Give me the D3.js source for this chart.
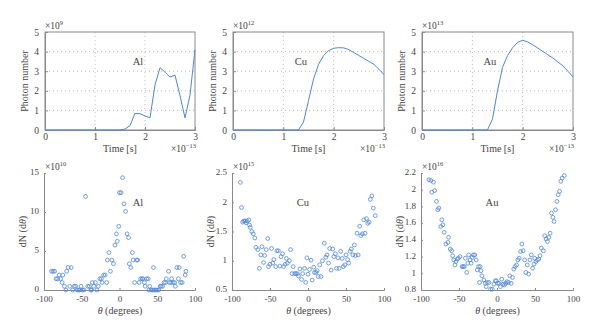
<!DOCTYPE html>
<html>
<head>
<meta charset="utf-8">
<script src="https://cdn.jsdelivr.net/npm/d3@7"></script>
<style>
  body { margin: 0; background: #fff; }
  text { font-family: "Liberation Serif", "Times New Roman", Times, serif; fill: #444; }
</style>
</head>
<body>
<div id="chart"></div>
<script>
// time axis (units of 1e-13 s)
var times = [0, 0.1, 0.2, 0.3, 0.4, 0.5, 0.6, 0.7, 0.8, 0.9, 1.0, 1.1, 1.2, 1.3, 1.4, 1.5,
             1.6, 1.7, 1.8, 1.9, 2.0, 2.1, 2.2, 2.3, 2.4, 2.5, 2.6, 2.7, 2.8, 2.9, 3.0];

// photon number vs time
var alPhotons = [0, 0, 0, 0, 0, 0, 0, 0, 0, 0, 0, 0, 0, 0, 0, 0,
                 0.05, 0.22, 0.85, 0.83, 0.72, 0.62, 2.3, 3.18, 2.95, 2.7, 2.8, 1.75, 0.62, 1.78, 4.1];
var cuPhotons = [0, 0, 0, 0, 0, 0, 0, 0, 0, 0, 0, 0, 0, 0,
                 0.4, 1.5, 2.6, 3.35, 3.8, 4.05, 4.17, 4.2, 4.19, 4.1, 3.95, 3.8, 3.65, 3.5, 3.35, 3.1, 2.82];
var auPhotons = [0, 0, 0, 0, 0, 0, 0, 0, 0, 0, 0, 0, 0, 0,
                 0.55, 2.0, 3.2, 3.8, 4.2, 4.47, 4.58, 4.49, 4.35, 4.18, 4.01, 3.84, 3.67, 3.47, 3.27, 3.0, 2.7];

// angular distribution [theta, dN]
var alAngular = [[-90,2.4],[-88,2.4],[-86,2.4],[-84,1.44],[-82,1.44],[-80,1.92],[-78,1.44],[-76,0.96],
  [-75,1.92],[-73,0.48],[-71,0],[-70,2.4],[-68,2.88],[-66,0.48],[-64,2.88],[-62,0],[-60,0.48],[-58,0.48],
  [-56,0],[-54,0],[-53,0],[-51,0.48],[-49,0],[-47,0],[-45,12.0],[-42,0.48],[-40,0.48],[-38,0],[-37,0],
  [-36,0.96],[-34,0.48],[-32,0.96],[-30,0],[-28,0.48],[-26,1.44],[-24,1.44],[-23,0.96],[-21,1.92],
  [-19,1.92],[-17,0.96],[-16,3.84],[-14,4.8],[-12,2.4],[-10,3.84],[-8,3.36],[-6,5.76],[-4,7.2],[-3,6.24],
  [-1,8.16],[0,12.48],[2,12.48],[4,14.4],[6,11.04],[8,10.08],[10,7.2],[12,6.72],[13,3.36],[15,2.88],
  [17,4.8],[18,3.84],[20,0.96],[23,3.84],[24,3.84],[26,0.96],[28,1.44],[30,1.44],[31,1.44],[33,0.96],
  [34,0.48],[36,1.44],[38,1.44],[39,0],[40,0.48],[42,0],[44,0],[45,2.88],[46,0],[48,0],[50,0],[52,0],
  [54,0.48],[55,0.48],[57,0.48],[59,0.96],[61,0.96],[62,1.44],[65,2.4],[66,0.96],[68,0.96],[69,1.44],
  [71,0.96],[73,0.96],[74,0.48],[76,2.88],[78,1.44],[79,2.88],[81,0.96],[83,0.96],[85,4.32],[87,1.92],[88,2.4]];

var cuAngular = [[-89,2.34],[-87.5,1.91],[-86,1.66],[-84.5,1.68],[-83,1.68],[-81.5,1.65],[-80,1.68],
  [-78,1.70],[-77,1.61],[-76,1.57],[-74,1.50],[-72,1.46],[-70,1.39],[-68.5,1.23],[-66,1.19],[-64,0.87],
  [-62,1.10],[-60.5,1.24],[-58.5,0.97],[-57,1.09],[-55,1.19],[-53,1.38],[-52,0.90],[-50,0.94],[-48,1.21],
  [-46.5,0.96],[-45,1.02],[-42.5,0.90],[-41,1.17],[-39,1.17],[-37,0.91],[-35.5,1.07],[-33.5,1.12],
  [-32,0.90],[-30,0.94],[-28.5,1.04],[-27,0.96],[-24.5,1.00],[-23,1.19],[-21,0.78],[-19.5,0.90],
  [-17.5,0.78],[-16,0.78],[-14,0.78],[-12.5,0.74],[-10.5,0.86],[-8.5,0.68],[-7,0.78],[-4.5,0.87],
  [-3,0.63],[-1.5,1.05],[0,0.77],[2,0.85],[4,1.01],[5.5,0.67],[7.5,0.89],[8.5,0.80],[10.5,0.80],
  [12,0.83],[13.5,0.73],[15.5,0.93],[17,0.73],[19,1.00],[21.5,1.30],[23.5,1.06],[25,1.10],[27,0.96],
  [28.5,1.21],[30.5,0.84],[32.5,1.20],[34,1.07],[36,1.12],[37.5,0.87],[39.5,1.05],[41,0.87],[43,1.16],
  [45,1.04],[46.5,0.90],[48.5,0.93],[50,1.10],[52,1.02],[53.5,0.96],[55.5,1.16],[57,1.20],[59,1.10],
  [61,1.27],[62.5,1.09],[64.5,1.47],[66,1.10],[68,1.59],[69.5,1.43],[71.5,1.46],[73.5,1.70],[75,1.47],
  [77,1.72],[78.5,1.64],[80.5,1.66],[82,2.05],[84,2.11],[86,1.90],[88.5,1.77]];

var auAngular = [[-89.5,2.12],[-87,2.11],[-85.8,1.97],[-83.6,2.09],[-82,1.99],[-79.6,1.86],[-78,1.76],
  [-76.5,1.78],[-74,1.56],[-72.6,1.64],[-71.2,1.58],[-69.5,1.49],[-67.3,1.35],[-64.6,1.37],[-63.7,1.43],
  [-61.5,1.29],[-59.7,1.27],[-58.4,1.21],[-57,1.16],[-55.3,1.10],[-54,1.14],[-52.2,1.17],[-50.9,1.18],
  [-48.7,1.20],[-46,1.08],[-44.5,1.08],[-43,1.08],[-41.6,1.18],[-39.8,1.01],[-38.5,1.12],[-37.2,1.22],
  [-35.4,1.16],[-34,1.12],[-32.7,1.19],[-31,1.22],[-29.2,1.22],[-27.4,1.16],[-26,1.04],[-24.3,1.08],
  [-23,0.89],[-22.1,1.08],[-21.2,1.03],[-19.9,0.97],[-17.3,0.92],[-15.5,0.88],[-14.2,0.84],[-12.8,0.89],
  [-10.6,0.89],[-8.4,0.81],[-6.2,0.81],[-4,0.87],[-2.2,0.91],[-0.9,0.91],[0.9,0.88],[2.7,0.88],
  [4.4,0.84],[6.2,0.93],[8,0.87],[9.7,0.86],[11.5,0.88],[13.3,0.90],[15,0.89],[16.8,0.97],[18.6,0.88],
  [20.4,0.95],[22.1,1.05],[23.9,1.08],[25.7,1.10],[27.4,1.16],[29.2,1.18],[31,1.26],[32.7,1.35],
  [34.5,1.27],[36.3,1.16],[38,1.01],[39.8,1.10],[41.6,0.99],[43.4,1.16],[45.1,1.22],[46.9,1.06],
  [48.7,1.11],[49.6,1.18],[51.3,1.14],[53.1,1.16],[54.9,1.17],[56.6,1.21],[58.4,1.30],[61,1.27],
  [62.8,1.45],[64.6,1.41],[66.4,1.38],[68.1,1.43],[69.9,1.48],[71.7,1.72],[73.5,1.67],[75.2,1.62],
  [77,1.76],[78.8,1.86],[80.5,1.94],[82.3,1.98],[84,2.1],[85.8,2.14],[88.5,2.17]];

var timeTicks = [0, 1, 2, 3];
var photonTicks = [0, 1, 2, 3, 4, 5];
var thetaTicks = [-100, -50, 0, 50, 100];
var alDNTicks = [0, 5, 10, 15];
var cuDNTicks = [0.5, 1, 1.5, 2, 2.5];
var auDNTicks = [0.8, 1, 1.2, 1.4, 1.6, 1.8, 2, 2.2];

var materials = ["Al", "Cu", "Au"];
var photonSeries = [alPhotons, cuPhotons, auPhotons];
var photonExp = ["9", "12", "13"];
var angularSeries = [alAngular, cuAngular, auAngular];
var angularTicks = [alDNTicks, cuDNTicks, auDNTicks];
var angularExp = ["10", "15", "16"];

var width = 600, height = 335;
var cols = [[45, 195], [233, 384], [422, 573]];
var topRow = [32, 130];
var botRow = [173, 290];
var lineColor = "#4f86d9";
var axisColor = "#8a8a8a";

var svg = d3.select("#chart").append("svg")
    .attr("width", width)
    .attr("height", height);

function expLabel(g, x, y, exp, anchor) {
    var t = g.append("text")
        .attr("x", x)
        .attr("y", y)
        .attr("text-anchor", anchor)
        .style("font-size", "9.5px");
    t.append("tspan").text("\u00d710");
    t.append("tspan").attr("dy", -4).style("font-size", "6.5px").text(exp);
}

function styleAxis(g, size) {
    g.select(".domain").attr("stroke", axisColor);
    g.selectAll(".tick line").attr("stroke", axisColor);
    g.selectAll(".tick text").style("font-size", size || "9.5px").attr("fill", "#444");
}

// top row: photon number vs time
cols.forEach(function(c, i) {
    var x = d3.scaleLinear().domain([0, 3]).range(c);
    var y = d3.scaleLinear().domain([0, 5]).range([topRow[1], topRow[0]]);
    var g = svg.append("g");

    // dotted grid
    g.selectAll(".gx").data([1, 2]).enter().append("line")
        .attr("x1", function(d) { return x(d); })
        .attr("x2", function(d) { return x(d); })
        .attr("y1", topRow[0]).attr("y2", topRow[1])
        .attr("stroke", "#aaa").attr("stroke-width", 0.8).attr("stroke-dasharray", "1,3");
    g.selectAll(".gy").data([1, 2, 3, 4]).enter().append("line")
        .attr("y1", function(d) { return y(d); })
        .attr("y2", function(d) { return y(d); })
        .attr("x1", c[0]).attr("x2", c[1])
        .attr("stroke", "#aaa").attr("stroke-width", 0.8).attr("stroke-dasharray", "1,3");

    g.append("rect")
        .attr("x", c[0]).attr("y", topRow[0])
        .attr("width", c[1] - c[0]).attr("height", topRow[1] - topRow[0])
        .attr("fill", "none").attr("stroke", axisColor).attr("stroke-width", 1);

    var xa = g.append("g").attr("transform", "translate(0," + topRow[1] + ")")
        .call(d3.axisBottom(x).tickValues(timeTicks).tickSize(-3).tickPadding(3).tickFormat(d3.format("d")));
    styleAxis(xa);
    var ya = g.append("g").attr("transform", "translate(" + c[0] + ",0)")
        .call(d3.axisLeft(y).tickValues(photonTicks).tickSize(-3).tickPadding(6).tickFormat(d3.format("d")));
    styleAxis(ya);

    var line = d3.line()
        .x(function(d, j) { return x(times[j]); })
        .y(function(d) { return y(d); });
    g.append("path")
        .datum(photonSeries[i])
        .attr("d", line)
        .attr("fill", "none")
        .attr("stroke", lineColor)
        .attr("stroke-width", 1);

    g.append("text")
        .attr("x", x(i == 0 ? 1.86 : 1.35))
        .attr("y", topRow[0] + 33)
        .attr("text-anchor", "middle")
        .style("font-size", "10.5px")
        .text(materials[i]);

    g.append("text")
        .attr("transform", "translate(" + (c[0] - 17) + "," + ((topRow[0] + topRow[1]) / 2) + ") rotate(-90)")
        .attr("text-anchor", "middle")
        .style("font-size", "10px")
        .text("Photon number");
    g.append("text")
        .attr("x", (c[0] + c[1]) / 2)
        .attr("y", topRow[1] + 22)
        .attr("text-anchor", "middle")
        .style("font-size", "10px")
        .text("Time [s]");

    expLabel(g, c[0], topRow[0] - 3, photonExp[i], "start");
    expLabel(g, c[1] + 1, topRow[1] + 22, "\u221213", "end");
});

// bottom row: angular distribution
cols.forEach(function(c, i) {
    var ticks = angularTicks[i];
    var x = d3.scaleLinear().domain([-100, 100]).range([c[0] - 1, c[1]]);
    var y = d3.scaleLinear().domain([ticks[0], ticks[ticks.length - 1]]).range([botRow[1], botRow[0]]);
    var g = svg.append("g");

    var xa = g.append("g").attr("transform", "translate(0," + botRow[1] + ")")
        .call(d3.axisBottom(x).tickValues(thetaTicks).tickSize(-2).tickPadding(6)
            .tickFormat(function(d) { return String(d); }));
    styleAxis(xa, "9px");
    var ya = g.append("g").attr("transform", "translate(" + (c[0] - 1) + ",0)")
        .call(d3.axisLeft(y).tickValues(ticks).tickSize(-2).tickPadding(5).tickFormat(function(d) { return String(d); }));
    styleAxis(ya, "9px");
    ya.selectAll(".tick text").attr("dy", "0.2em");

    g.selectAll("circle").data(angularSeries[i]).enter().append("circle")
        .attr("cx", function(d) { return x(d[0]); })
        .attr("cy", function(d) { return y(d[1]); })
        .attr("r", 1.9)
        .attr("fill", "none")
        .attr("stroke", lineColor)
        .attr("stroke-width", 0.8);

    g.append("text")
        .attr("x", c[0] + (i == 0 ? 93 : 70))
        .attr("y", botRow[0] + 33)
        .attr("text-anchor", "middle")
        .style("font-size", "10.5px")
        .text(materials[i]);

    var yl = g.append("text")
        .attr("transform", "translate(" + (c[0] - 19) + "," + ((botRow[0] + botRow[1]) / 2) + ") rotate(-90)")
        .attr("text-anchor", "middle")
        .style("font-size", "10px");
    yl.append("tspan").text("dN (d");
    yl.append("tspan").style("font-style", "italic").text("\u03b8");
    yl.append("tspan").text(")");

    var xl = g.append("text")
        .attr("x", (c[0] + c[1]) / 2)
        .attr("y", botRow[1] + 24)
        .attr("text-anchor", "middle")
        .style("font-size", "10px");
    xl.append("tspan").style("font-style", "italic").text("\u03b8");
    xl.append("tspan").text(" (degrees)");

    expLabel(g, c[0], botRow[0] - 3, angularExp[i], "start");
});
</script>
</body>
</html>
